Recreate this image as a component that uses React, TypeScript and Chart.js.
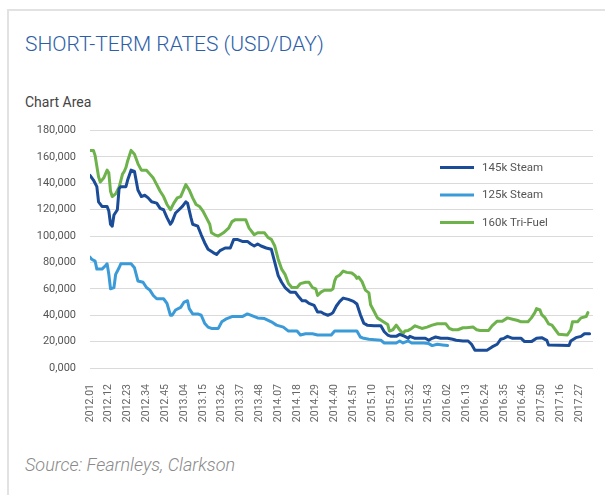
import React, { useEffect, useRef } from "react";
import { Chart, registerables } from "chart.js";

Chart.register(...registerables);

// Category tick labels (every 11th week)
const tickLabels = [
  "2012.01", "2012.12", "2012.23", "2012.34", "2012.45",
  "2013.04", "2013.15", "2013.26", "2013.37", "2013.48",
  "2014.07", "2014.18", "2014.29", "2014.40", "2014.51",
  "2015.10", "2015.21", "2015.32", "2015.43",
  "2016.02", "2016.13", "2016.24", "2016.35", "2016.46",
  "2017.50", "2017.16", "2017.27",
];
const tickStepWeeks = 11;
const weekAxisMax = 294;

const yTickLabels = [
  "0,000", "20,000", "40,000", "60,000", "80,000",
  "100,000", "120,000", "140,000", "160,000", "180,000",
];

const seriesNames = ["145k Steam", "125k Steam", "160k Tri-Fuel"];

// 145k Steam
const steam145Weeks = [
  0, 2, 4, 5, 7, 10, 11, 12, 13, 14, 16, 17, 18, 21, 22, 24, 26, 28, 30, 32,
  34, 36, 39, 41, 43, 45, 47, 48, 50, 52, 54, 56, 57, 59, 60, 63, 65, 67, 69, 72,
  74, 76, 79, 82, 84, 86, 89, 92, 94, 96, 98, 100, 103, 106, 108, 110, 112, 114, 117, 120,
  122, 124, 126, 128, 131, 133, 135, 137, 139, 141, 142, 144, 146, 148, 151, 154, 156, 158, 160, 162,
  166, 170, 172, 174, 176, 179, 181, 184, 186, 187, 190, 196, 198, 200, 202, 205, 209, 212, 214, 218,
  221, 223, 225, 232, 235, 238, 240, 242, 244, 247, 252, 254, 258, 261, 264, 267, 268, 280, 281, 284,
  287, 289, 292,
];
const steam145Values = [
  146000, 142500, 137500, 126000, 122500, 122500, 119000, 109000, 107500, 116000, 120000, 136000, 137500, 137500, 142500, 150000, 149000, 135000, 130000, 131000,
  129000, 126000, 125000, 121000, 120000, 114000, 109000, 111000, 117500, 120000, 122500, 126000, 125000, 114000, 109000, 107500, 101000, 95000, 90000, 87500,
  86000, 89000, 91000, 91000, 97500, 97500, 96000, 96000, 94000, 92500, 94000, 92500, 91000, 90000, 80000, 70000, 65000, 61000, 57500, 57500,
  54000, 51000, 51000, 49000, 47500, 42500, 42500, 41000, 40000, 41000, 42000, 47000, 50500, 53000, 52000, 50500, 48500, 40500, 34000, 32500,
  32000, 32000, 27500, 25000, 24000, 24000, 25500, 24000, 22500, 24000, 22500, 22500, 21000, 22500, 23500, 22500, 22500, 21750, 21000, 20500,
  20500, 18000, 13500, 13500, 16000, 18000, 21750, 22500, 24000, 22500, 22500, 20000, 20000, 22500, 23000, 21000, 17500, 17000, 20500, 23000,
  24000, 26000, 26000,
];

// 125k Steam
const steam125Weeks = [
  0, 1, 3, 4, 7, 9, 10, 11, 12, 14, 15, 17, 18, 24, 26, 28, 31, 33, 35, 37,
  39, 43, 45, 47, 48, 50, 53, 55, 57, 58, 60, 63, 65, 67, 69, 71, 75, 77, 80, 83,
  89, 92, 95, 98, 102, 106, 109, 113, 116, 121, 123, 126, 130, 133, 141, 143, 156, 158, 160, 163,
  170, 172, 179, 181, 183, 186, 188, 195, 198, 200, 203, 206, 209,
];
const steam125Values = [
  84000, 82500, 81000, 75000, 75000, 77500, 79000, 71000, 60000, 61000, 71000, 76000, 79000, 79000, 76000, 66000, 65000, 61000, 59000, 55000,
  52500, 52500, 49000, 40000, 40000, 44000, 46000, 50000, 51000, 45000, 41000, 41000, 40000, 34000, 31000, 30000, 30000, 35000, 37500, 39000,
  39000, 41000, 39500, 38000, 37500, 35000, 32500, 31000, 28000, 28000, 25000, 26000, 26000, 25000, 25000, 28000, 28000, 23500, 22500, 21750,
  21000, 19000, 19000, 20500, 19000, 20500, 19000, 19000, 18500, 17000, 18000, 17500, 17000,
];

// 160k Tri-Fuel
const triFuel160Weeks = [
  0, 2, 3, 5, 6, 8, 10, 11, 12, 13, 15, 17, 19, 20, 21, 22, 24, 26, 28, 30,
  33, 35, 37, 39, 41, 43, 45, 47, 49, 51, 53, 55, 56, 58, 60, 62, 64, 66, 68, 70,
  71, 73, 75, 78, 81, 83, 85, 91, 93, 96, 98, 102, 104, 106, 108, 110, 112, 114, 116, 118,
  121, 123, 126, 128, 130, 132, 133, 135, 137, 139, 141, 142, 143, 144, 146, 148, 150, 153, 155, 156,
  157, 159, 161, 163, 164, 166, 168, 171, 174, 175, 177, 179, 181, 183, 184, 186, 188, 190, 192, 194,
  197, 200, 203, 208, 210, 212, 215, 218, 220, 224, 226, 228, 233, 235, 238, 241, 244, 247, 250, 252,
  256, 258, 260, 261, 263, 264, 266, 268, 270, 272, 274, 279, 281, 282, 285, 287, 290, 291,
];
const triFuel160Values = [
  165000, 165000, 161000, 145000, 141000, 144000, 150000, 148000, 134000, 130000, 132000, 137000, 147000, 149000, 152000, 157000, 165000, 162000, 155000, 150000,
  150000, 147000, 144000, 139000, 134000, 130000, 124000, 120000, 125000, 129000, 130000, 136000, 139000, 135000, 129000, 124000, 122500, 119000, 114000, 109000,
  102500, 101000, 100000, 102500, 106000, 111000, 112500, 112500, 106000, 101000, 102500, 102500, 99000, 97500, 92500, 82500, 75000, 71000, 64000, 61000,
  61000, 64000, 65000, 65000, 61000, 60000, 55000, 57500, 59000, 59000, 59000, 60000, 66000, 69000, 70500, 73500, 72500, 72000, 70000, 68000,
  69000, 65500, 59000, 57000, 48000, 43000, 38000, 35500, 33000, 28000, 29000, 32500, 29000, 26000, 28000, 28500, 30000, 32000, 31000, 30000,
  31000, 32500, 33500, 33500, 30000, 29000, 29000, 30500, 30500, 31000, 29000, 28500, 28500, 32000, 35500, 35500, 38000, 37000, 36000, 35000,
  35000, 38000, 42000, 45000, 44000, 40500, 38000, 33500, 32500, 29000, 25500, 25000, 29000, 35000, 35000, 38000, 39000, 42000,
];

const seriesColors = ["#1b4c98", "#3b9bd8", "#6db24b"];

const toPoints = (weeks: number[], values: number[]) =>
  weeks.map((w, i) => ({ x: w, y: values[i] }));

const insideLegend = {
  id: "insideLegend",
  afterDraw(chart: any) {
    const { ctx, chartArea } = chart;
    ctx.save();
    chart.data.datasets.forEach((ds: any, i: number) => {
      const y = chartArea.top + 37 + i * 27.5;
      const x0 = chartArea.left + 350;
      ctx.strokeStyle = ds.borderColor;
      ctx.lineWidth = 3;
      ctx.beginPath();
      ctx.moveTo(x0, y);
      ctx.lineTo(x0 + 34, y);
      ctx.stroke();
      ctx.fillStyle = "#555555";
      ctx.font = "11.5px Roboto";
      ctx.textBaseline = "middle";
      ctx.textAlign = "left";
      ctx.fillText(ds.label, x0 + 42, y + 0.5);
    });
    ctx.restore();
  },
};

export default function App() {
  const canvasRef = useRef<HTMLCanvasElement | null>(null);

  useEffect(() => {
    if (!canvasRef.current) return;
    const chart = new Chart(canvasRef.current, {
      type: "line",
      data: {
        datasets: [
          {
            label: seriesNames[0],
            data: toPoints(steam145Weeks, steam145Values),
            borderColor: seriesColors[0],
            backgroundColor: seriesColors[0],
          },
          {
            label: seriesNames[1],
            data: toPoints(steam125Weeks, steam125Values),
            borderColor: seriesColors[1],
            backgroundColor: seriesColors[1],
          },
          {
            label: seriesNames[2],
            data: toPoints(triFuel160Weeks, triFuel160Values),
            borderColor: seriesColors[2],
            backgroundColor: seriesColors[2],
          },
        ] as any,
      },
      options: {
        animation: false,
        responsive: false,
        events: [],
        elements: {
          line: { borderWidth: 3, tension: 0, borderJoinStyle: "round", borderCapStyle: "round" },
          point: { radius: 0 },
        },
        layout: { padding: { top: 17, right: 12, bottom: 0, left: 0 } },
        plugins: {
          legend: { display: false },
          tooltip: { enabled: false },
          title: { display: false },
        },
        scales: {
          x: {
            type: "linear",
            min: 0,
            max: weekAxisMax,
            grid: { display: false },
            border: { display: false },
            afterBuildTicks: (scale: any) => {
              scale.ticks = tickLabels.map((_, i) => ({ value: i * tickStepWeeks }));
            },
            afterFit: (scale: any) => {
              scale.height = 77;
            },
            ticks: {
              autoSkip: false,
              minRotation: 90,
              maxRotation: 90,
              padding: 8,
              color: "#666666",
              font: { family: "Roboto", size: 10.5 },
              callback: (value: any) => {
                const idx = Math.round(Number(value) / tickStepWeeks);
                return tickLabels[idx] ?? "";
              },
            },
          },
          y: {
            min: 0,
            max: 180000,
            grid: { color: "#dadada", lineWidth: 1, drawTicks: false },
            border: { display: false },
            afterFit: (scale: any) => {
              scale.width = 90;
            },
            ticks: {
              stepSize: 20000,
              padding: 14,
              color: "#555555",
              font: { family: "Roboto", size: 11 },
              callback: (value: any) => {
                const idx = Math.round(Number(value) / 20000);
                return yTickLabels[idx] ?? "";
              },
            },
          },
        },
      },
      plugins: [insideLegend],
    });
    return () => chart.destroy();
  }, []);

  return (
    <div
      style={{
        position: "absolute",
        left: 0,
        top: 0,
        width: 605,
        height: 495,
        background: "#ffffff",
        overflow: "hidden",
        fontFamily: "Roboto, sans-serif",
      }}
    >
      <div
        style={{
          position: "absolute",
          left: 7,
          top: 9,
          width: 640,
          height: 520,
          borderTop: "2px solid #e2e2e2",
          borderLeft: "2px solid #e2e2e2",
        }}
      />
      <div
        style={{
          position: "absolute",
          left: 25,
          top: 34,
          fontSize: 21,
          lineHeight: "21px",
          fontWeight: 300,
          color: "#2d5ea8",
          whiteSpace: "nowrap",
        }}
      >
        SHORT-TERM RATES (USD/DAY)
      </div>
      <div
        style={{
          position: "absolute",
          left: 25,
          top: 95,
          fontSize: 14,
          lineHeight: "14px",
          color: "#444444",
          whiteSpace: "nowrap",
        }}
      >
        Chart Area
      </div>
      <canvas
        ref={canvasRef}
        width={605}
        height={335}
        style={{ position: "absolute", left: 0, top: 110, width: 605, height: 335 }}
      />
      <div
        style={{
          position: "absolute",
          left: 25,
          top: 456,
          fontSize: 18,
          lineHeight: "18px",
          fontWeight: 300,
          fontStyle: "italic",
          color: "#8a8a8a",
          whiteSpace: "nowrap",
        }}
      >
        Source: Fearnleys, Clarkson
      </div>
    </div>
  );
}
